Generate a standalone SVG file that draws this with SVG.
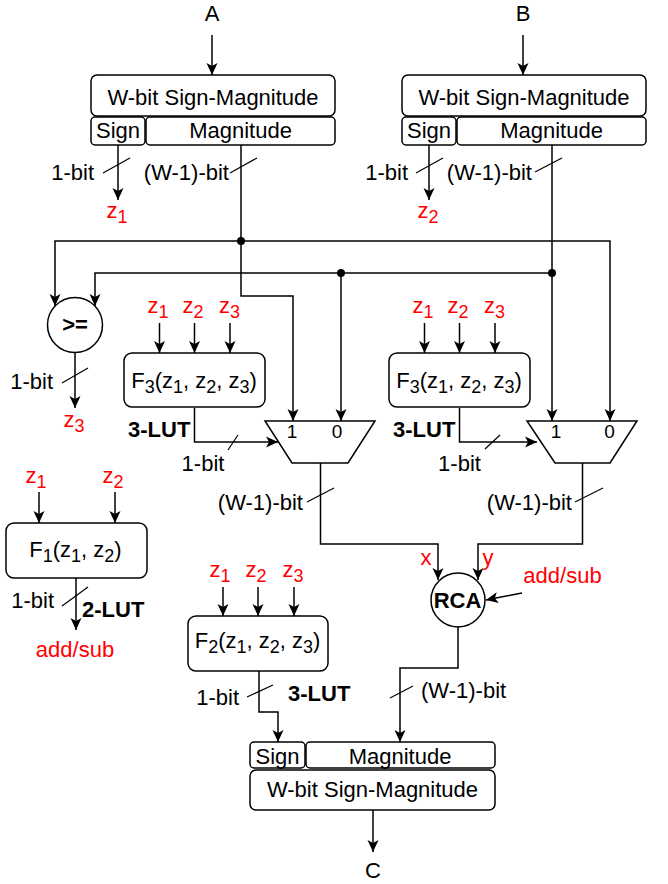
<svg xmlns="http://www.w3.org/2000/svg" width="668" height="884" viewBox="0 0 668 884">
<defs>
<style>
.t{font-family:"Liberation Sans",Arial,sans-serif;font-size:22px;fill:#000}
.b{font-weight:bold}
.r{fill:#ff0000}
.m{text-anchor:middle}
.e{text-anchor:end}
.s{font-size:18px}
.d{font-size:19px}
.box{fill:#fff;stroke:#000;stroke-width:1.5}
.ln{fill:none;stroke:#000;stroke-width:1.5}
.ar{fill:none;stroke:#000;stroke-width:1.5;marker-end:url(#arr)}
.sl{stroke:#000;stroke-width:1.2}
</style>
<marker id="arr" viewBox="0 0 12 12" refX="12" refY="6" markerWidth="12" markerHeight="12" markerUnits="userSpaceOnUse" orient="auto">
<path d="M0,0.5 L12,6 L0,11.5 L3,6 Z" fill="#000"/>
</marker>
</defs>
<rect x="0" y="0" width="668" height="884" fill="#fff"/>

<g id="connectors">
<path class="ar" d="M212,35 V75"/>
<path class="ar" d="M523,35 V75"/>
<path class="ar" d="M118,145 V200"/>
<path class="ar" d="M429,145 V200"/>
<path class="ln" d="M241,145 V241"/>
<path class="ar" d="M241,241 V296 H293 V421"/>
<path class="ar" d="M241,241 H55 V306"/>
<path class="ar" d="M241,241 H610 V421"/>
<path class="ar" d="M552,145 V421"/>
<path class="ar" d="M552,273 H95 V306"/>
<path class="ar" d="M341,273 V421"/>
<circle cx="241" cy="241" r="4" fill="#000"/>
<circle cx="552" cy="273" r="4" fill="#000"/>
<circle cx="341" cy="273" r="4" fill="#000"/>
<path class="ar" d="M75,352.5 V408"/>
<path class="ar" d="M159.5,323 V353"/>
<path class="ar" d="M194.5,323 V353"/>
<path class="ar" d="M230,323 V353"/>
<path class="ar" d="M424.5,323 V353"/>
<path class="ar" d="M459.5,323 V353"/>
<path class="ar" d="M495,323 V353"/>
<path class="ar" d="M194.5,408 V442 H278"/>
<path class="ar" d="M459.5,408 V442 H537"/>
<path class="ar" d="M320.5,463 V544 H438 V580"/>
<path class="ar" d="M582.5,463 V544 H478 V580"/>
<path class="ar" d="M522,593 L486,600"/>
<path class="ar" d="M39,492 V523"/>
<path class="ar" d="M115,492 V523"/>
<path class="ar" d="M76,578 V630"/>
<path class="ar" d="M223,587 V616"/>
<path class="ar" d="M258,587 V616"/>
<path class="ar" d="M294,587 V616"/>
<path class="ar" d="M259,671 V712 H278 V742"/>
<path class="ar" d="M458,627 V668 H400 V742"/>
<path class="ar" d="M373,810 V852"/>
<line class="sl" x1="103" y1="173" x2="130" y2="158"/>
<line class="sl" x1="230" y1="173" x2="257" y2="158"/>
<line class="sl" x1="416" y1="173" x2="443" y2="158"/>
<line class="sl" x1="535" y1="172" x2="562" y2="158"/>
<line class="sl" x1="62" y1="383" x2="88" y2="368"/>
<line class="sl" x1="228" y1="450" x2="238" y2="435"/>
<line class="sl" x1="485" y1="449" x2="500" y2="435"/>
<line class="sl" x1="307" y1="502" x2="334" y2="488"/>
<line class="sl" x1="575" y1="502" x2="603" y2="488"/>
<line class="sl" x1="62" y1="606" x2="88" y2="587"/>
<line class="sl" x1="247" y1="697" x2="273" y2="685"/>
<line class="sl" x1="390" y1="698" x2="413" y2="686"/>
</g>

<g id="edge-labels">
<text class="t e" x="94" y="180">1-bit</text>
<text class="t e" x="229" y="180">(W-1)-bit</text>
<text class="t e" x="408" y="180">1-bit</text>
<text class="t e" x="532" y="180">(W-1)-bit</text>
<text class="t e" x="53" y="389">1-bit</text>
<text class="t m" x="203" y="471">1-bit</text>
<text class="t m" x="459.5" y="471">1-bit</text>
<text class="t e" x="303" y="509.5">(W-1)-bit</text>
<text class="t e" x="572" y="509.5">(W-1)-bit</text>
<text class="t e" x="54" y="608">1-bit</text>
<text class="t e" x="239" y="705">1-bit</text>
<text class="t" x="421" y="698">(W-1)-bit</text>
<text class="t r m" x="426" y="565">x</text>
<text class="t r m" x="488" y="565">y</text>
<text class="t r m" x="562.5" y="583">add/sub</text>
</g>

<g id="input-A"><text class="t m" x="212" y="21">A</text></g>
<g id="input-B"><text class="t m" x="523" y="21">B</text></g>

<g id="smA">
<rect class="box" x="91" y="75" width="244" height="41" rx="6"/>
<text class="t m" x="213" y="104.5">W-bit Sign-Magnitude</text>
<rect class="box" x="91" y="117" width="54" height="28" rx="4"/>
<text class="t m" x="118" y="137.5">Sign</text>
<rect class="box" x="146" y="117" width="189" height="28" rx="4"/>
<text class="t m" x="240.5" y="137.5">Magnitude</text>
</g>

<g id="smB">
<rect class="box" x="402" y="75" width="244" height="41" rx="6"/>
<text class="t m" x="524" y="104.5">W-bit Sign-Magnitude</text>
<rect class="box" x="402" y="117" width="54" height="28" rx="4"/>
<text class="t m" x="429" y="137.5">Sign</text>
<rect class="box" x="457" y="117" width="189" height="28" rx="4"/>
<text class="t m" x="551.5" y="137.5">Magnitude</text>
</g>

<g id="z1-out"><text class="t r m" x="117" y="218">z<tspan class="s" dy="5">1</tspan></text></g>
<g id="z2-out"><text class="t r m" x="428" y="218">z<tspan class="s" dy="5">2</tspan></text></g>

<g id="comparator">
<circle class="box" cx="75" cy="325" r="27.5"/>
<text class="t b m" x="75" y="332">&gt;=</text>
</g>
<g id="z3-out"><text class="t r m" x="74" y="427">z<tspan class="s" dy="5">3</tspan></text></g>

<g id="lut-F3-left">
<text class="t r m" x="158" y="312.5">z<tspan class="s" dy="5">1</tspan></text>
<text class="t r m" x="193" y="312.5">z<tspan class="s" dy="5">2</tspan></text>
<text class="t r m" x="229.5" y="312.5">z<tspan class="s" dy="5">3</tspan></text>
<rect class="box" x="124" y="353" width="141" height="54" rx="8"/>
<text class="t m" x="194" y="388">F<tspan class="s" dy="5">3</tspan><tspan dy="-5">(z</tspan><tspan class="s" dy="5">1</tspan><tspan dy="-5">, z</tspan><tspan class="s" dy="5">2</tspan><tspan dy="-5">, z</tspan><tspan class="s" dy="5">3</tspan><tspan dy="-5">)</tspan></text>
<text class="t b" x="128" y="437">3-LUT</text>
</g>

<g id="lut-F3-right">
<text class="t r m" x="423" y="312.5">z<tspan class="s" dy="5">1</tspan></text>
<text class="t r m" x="458" y="312.5">z<tspan class="s" dy="5">2</tspan></text>
<text class="t r m" x="494.5" y="312.5">z<tspan class="s" dy="5">3</tspan></text>
<rect class="box" x="389" y="353" width="141" height="54" rx="8"/>
<text class="t m" x="459" y="388">F<tspan class="s" dy="5">3</tspan><tspan dy="-5">(z</tspan><tspan class="s" dy="5">1</tspan><tspan dy="-5">, z</tspan><tspan class="s" dy="5">2</tspan><tspan dy="-5">, z</tspan><tspan class="s" dy="5">3</tspan><tspan dy="-5">)</tspan></text>
<text class="t b" x="393" y="437">3-LUT</text>
</g>

<g id="mux-left">
<polygon class="box" points="265,421 375,421 348,463 292,463"/>
<text class="t d m" x="292" y="437.5">1</text>
<text class="t d m" x="337" y="437.5">0</text>
</g>

<g id="mux-right">
<polygon class="box" points="527,421 637,421 610,463 555,463"/>
<text class="t d m" x="556" y="437.5">1</text>
<text class="t d m" x="609.5" y="437.5">0</text>
</g>

<g id="lut-F1">
<text class="t r m" x="36" y="483">z<tspan class="s" dy="5">1</tspan></text>
<text class="t r m" x="113" y="483">z<tspan class="s" dy="5">2</tspan></text>
<rect class="box" x="6" y="523" width="141" height="55" rx="8"/>
<text class="t m" x="75.5" y="557">F<tspan class="s" dy="5">1</tspan><tspan dy="-5">(z</tspan><tspan class="s" dy="5">1</tspan><tspan dy="-5">, z</tspan><tspan class="s" dy="5">2</tspan><tspan dy="-5">)</tspan></text>
<text class="t b" x="82" y="616.5">2-LUT</text>
<text class="t r m" x="75" y="657">add/sub</text>
</g>

<g id="rca">
<circle class="box" cx="458" cy="600" r="27"/>
<text class="t b m" x="457.5" y="608">RCA</text>
</g>

<g id="lut-F2">
<text class="t r m" x="220" y="577">z<tspan class="s" dy="5">1</tspan></text>
<text class="t r m" x="256" y="577">z<tspan class="s" dy="5">2</tspan></text>
<text class="t r m" x="293" y="577">z<tspan class="s" dy="5">3</tspan></text>
<rect class="box" x="188" y="616" width="140" height="55" rx="8"/>
<text class="t m" x="257.5" y="648">F<tspan class="s" dy="5">2</tspan><tspan dy="-5">(z</tspan><tspan class="s" dy="5">1</tspan><tspan dy="-5">, z</tspan><tspan class="s" dy="5">2</tspan><tspan dy="-5">, z</tspan><tspan class="s" dy="5">3</tspan><tspan dy="-5">)</tspan></text>
<text class="t b" x="288" y="701">3-LUT</text>
</g>

<g id="smC">
<rect class="box" x="250" y="742" width="55" height="26" rx="4"/>
<text class="t m" x="277.5" y="763.5">Sign</text>
<rect class="box" x="306" y="742" width="189" height="26" rx="4"/>
<text class="t m" x="400" y="763.5">Magnitude</text>
<rect class="box" x="250" y="770" width="245" height="40" rx="6"/>
<text class="t m" x="372.5" y="796.5">W-bit Sign-Magnitude</text>
</g>

<g id="output-C"><text class="t m" x="373" y="878">C</text></g>
</svg>
